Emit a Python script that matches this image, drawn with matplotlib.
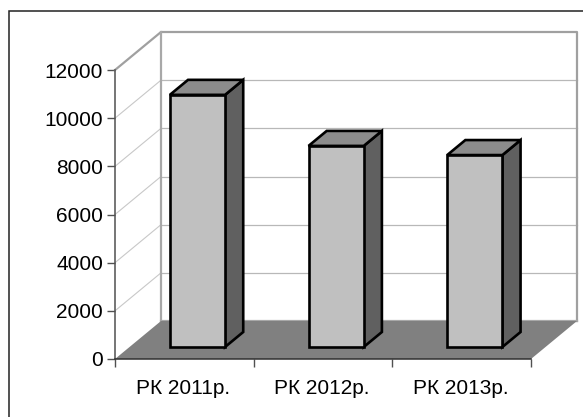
import matplotlib
matplotlib.use('Agg')
from matplotlib import pyplot as plt
from matplotlib.lines import Line2D
from matplotlib.patches import Polygon

categories = ['РК 2011р.', 'РК 2012р.', 'РК 2013р.']
values = [10470, 8350, 7970]
yticks = [0, 2000, 4000, 6000, 8000, 10000, 12000]

W, H = 583, 417
plt.rcParams['font.family'] = ['Liberation Sans', 'DejaVu Sans']

fig = plt.figure(figsize=(W / 100, H / 100), dpi=100)
# front plane of the chart box, in pixels
left, right, top, bottom = 115, 531, 70, 359
ax = fig.add_axes([left / W, 1 - bottom / H, (right - left) / W, (bottom - top) / H])
ax.set_xlim(0, 3)
ax.set_ylim(0, 12000)
for s in ['top', 'right', 'bottom', 'left']:
    ax.spines[s].set_visible(False)
ax.patch.set_visible(False)

# oblique depth, data units per full depth
DX = 46 / 138.67
DY = 38 / 289 * 12000


def pr(x, y, d):
    return (x + d * DX, y + d * DY)


def poly(pts, z=2, **kw):
    ax.add_patch(Polygon(pts, closed=True, clip_on=False, zorder=z, joinstyle='miter', **kw))


# frame, only the top and left edges fall inside the image
fig.add_artist(Line2D([8.5 / W, 8.5 / W, 1], [0, 1 - 10.7 / H, 1 - 10.7 / H],
                      transform=fig.transFigure, color='#222222', lw=1.1,
                      solid_joinstyle='miter'))

# walls and floor
poly([pr(0, 0, 0), pr(0, 0, 1), pr(0, 12000, 1), pr(0, 12000, 0)], z=1, fc='white', ec='none')
poly([pr(0, 0, 1), pr(3, 0, 1), pr(3, 12000, 1), pr(0, 12000, 1)], z=1, fc='white', ec='none')
for t in yticks[1:-1]:
    ax.plot(*zip(pr(0, t, 0), pr(0, t, 1)), color='#c8c8c8', lw=0.8, zorder=1.5, clip_on=False)
    ax.plot(*zip(pr(0, t, 1), pr(3, t, 1)), color='#b8b8b8', lw=0.9, zorder=1.5, clip_on=False)
ax.plot(*zip(pr(0, 12000, 0), pr(0, 12000, 1), pr(3, 12000, 1), pr(3, 0, 1)),
        color='#a0a0a0', lw=1.6, zorder=1.6, clip_on=False)
ax.plot(*zip(pr(0, 12000, 1), pr(0, 0, 1)), color='#a8a8a8', lw=1.6, zorder=1.6, clip_on=False)
ax.plot(*zip(pr(0, 0, 1), pr(3, 0, 1)), color='#a8a8a8', lw=1.6, zorder=1.6, clip_on=False)
poly([pr(0, 0, 0), pr(3, 0, 0), pr(3, 0, 1), pr(0, 0, 1)], z=1.8, fc='#808080', ec='none')

# bars
BW = 0.398
OFFSET = 0.49
D0, D1 = 12 / 38, 27 / 38
for i, v in enumerate(values):
    x0, x1 = i + OFFSET - BW / 2, i + OFFSET + BW / 2
    kw = dict(ec='black', lw=1.9)
    poly([pr(x1, 0, D0), pr(x1, 0, D1), pr(x1, v, D1), pr(x1, v, D0)], z=3, fc='#606060', **kw)
    poly([pr(x0, v, D0), pr(x1, v, D0), pr(x1, v, D1), pr(x0, v, D1)], z=3, fc='#8c8c8c', **kw)
    poly([pr(x0, 0, D0), pr(x1, 0, D0), pr(x1, v, D0), pr(x0, v, D0)], z=4, fc='#c0c0c0', **kw)

# axes lines and ticks
ax.plot([0, 0], [0, 12000], color='#505050', lw=1.1, zorder=5, clip_on=False)
ax.plot([0, 3], [0, 0], color='#303030', lw=1.1, zorder=5, clip_on=False)
ax.set_yticks(yticks)
ax.set_xticks([0, 1, 2, 3])
ax.set_xticklabels([])
ax.tick_params(axis='y', length=5.5, width=1.0, color='#505050', labelsize=15, pad=3)
ax.tick_params(axis='x', length=6, width=1.0, color='#505050')
for i, c in enumerate(categories):
    ax.annotate(c, (i + 0.5, 0), xytext=(-1, -29), textcoords='offset pixels', ha='center',
                va='center', fontsize=15, color='black', annotation_clip=False)
ax.set_zorder(2)

fig.savefig('out.png', dpi=100, facecolor='white')
